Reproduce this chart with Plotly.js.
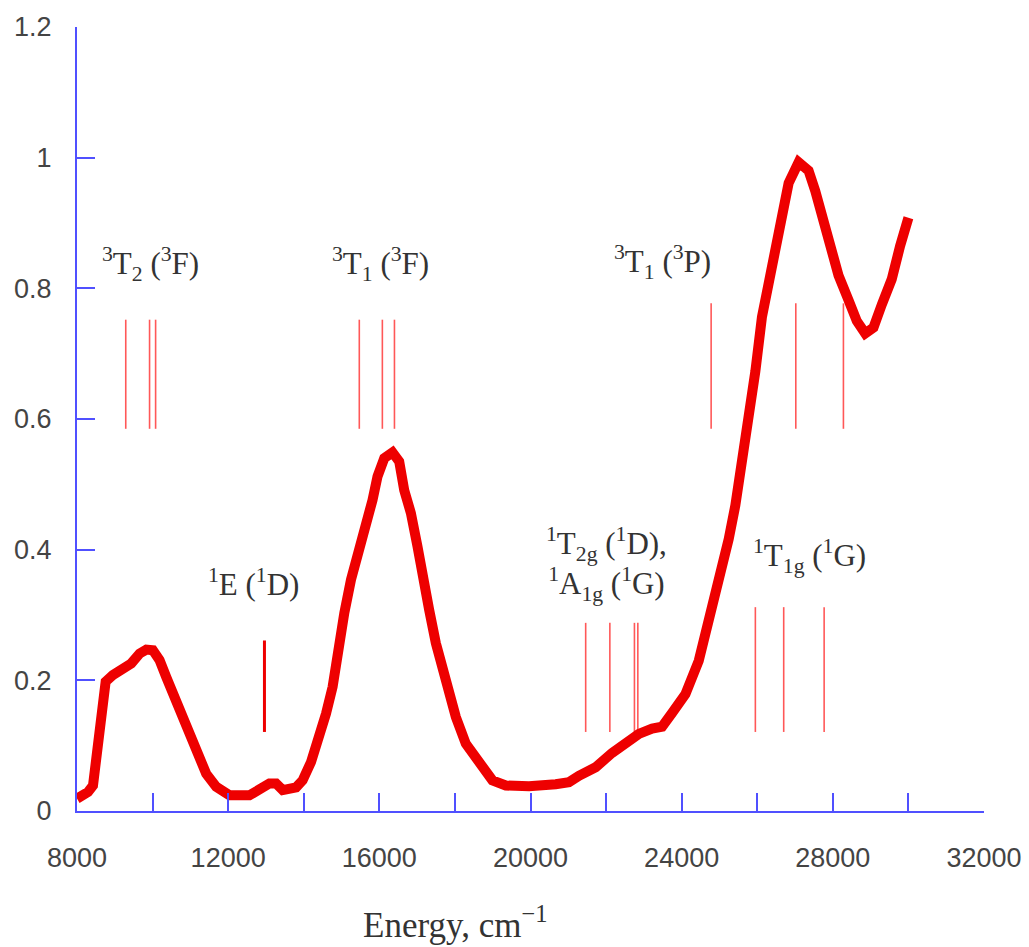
<!DOCTYPE html>
<html>
<head>
<meta charset="utf-8">
<script src="https://cdn.plot.ly/plotly-3.0.1.min.js"></script>
<style>html,body{margin:0;padding:0;background:#fff;}#chart{width:1029px;height:947px;}</style>
</head>
<body>
<div id="chart"></div>
<script>
// Absorption spectrum (energy in cm^-1, absorbance)
const energy = [8000, 8291, 8423, 8513, 8600, 8671, 8758, 8951, 9215, 9437, 9657, 9834, 10008, 10185, 10362, 10626, 10890, 11155, 11419, 11683, 12034, 12563, 12827, 13091, 13268, 13443, 13797, 13971, 14193, 14412, 14589, 14764, 14914, 15073, 15250, 15424, 15646, 15820, 15952, 16130, 16349, 16526, 16658, 16835, 17009, 17186, 17318, 17495, 17760, 18024, 18288, 18640, 18991, 19345, 19961, 20666, 21017, 21281, 21723, 22161, 22602, 22867, 23218, 23482, 23746, 24100, 24452, 24716, 24980, 25244, 25421, 25596, 25773, 25950, 26124, 26301, 26478, 26653, 26830, 27094, 27358, 27535, 27709, 27886, 28150, 28415, 28634, 28856, 29076, 29295, 29559, 29781, 30000];
const absorbance = [0.019, 0.029, 0.039, 0.078, 0.119, 0.154, 0.198, 0.208, 0.216, 0.226, 0.241, 0.247, 0.246, 0.231, 0.205, 0.170, 0.129, 0.093, 0.057, 0.037, 0.024, 0.024, 0.032, 0.042, 0.042, 0.032, 0.036, 0.047, 0.075, 0.113, 0.149, 0.190, 0.251, 0.303, 0.354, 0.389, 0.440, 0.476, 0.512, 0.540, 0.549, 0.535, 0.491, 0.456, 0.405, 0.359, 0.308, 0.257, 0.195, 0.144, 0.103, 0.073, 0.047, 0.039, 0.038, 0.041, 0.044, 0.054, 0.067, 0.089, 0.108, 0.118, 0.126, 0.129, 0.150, 0.179, 0.230, 0.288, 0.352, 0.416, 0.468, 0.532, 0.602, 0.673, 0.756, 0.807, 0.872, 0.916, 0.961, 0.993, 0.980, 0.949, 0.910, 0.865, 0.820, 0.782, 0.750, 0.731, 0.740, 0.775, 0.814, 0.865, 0.908];

// Calculated transition energies (stick markers) and their vertical extents
const t2F = [9290, 9920, 10080];
const t1F = [15470, 16080, 16400];
const t1P = [24780, 27020, 28280];
const eD = [12960];
const t2gA1g = [21460, 22100, 22750, 22840];
const t1gG = [25950, 26700, 27770];
const upperStick = [0.585, 0.752];
const upperStickP = [0.585, 0.777];
const lowerStickE = [0.121, 0.261];
const lowerStickA = [0.121, 0.288];
const lowerStickG = [0.121, 0.312];

// Term labels
const labelTexts = [
  "<sup>3</sup>T<sub>2</sub> (<sup>3</sup>F)",
  "<sup>3</sup>T<sub>1</sub> (<sup>3</sup>F)",
  "<sup>3</sup>T<sub>1</sub> (<sup>3</sup>P)",
  "<sup>1</sup>E (<sup>1</sup>D)",
  "<sup>1</sup>T<sub>2g</sub> (<sup>1</sup>D),<br><sup>1</sup>A<sub>1g</sub> (<sup>1</sup>G)",
  "<sup>1</sup>T<sub>1g</sub> (<sup>1</sup>G)"
];
const labelX = [9950, 16030, 23500, 12670, 22020, 27380];
const labelY = [0.838, 0.838, 0.840, 0.350, 0.378, 0.390];

// X tick values and labels
const xTickVals = [8000, 10000, 12000, 14000, 16000, 18000, 20000, 22000, 24000, 26000, 28000, 30000, 32000];
const xTickText = ["8000", "", "12000", "", "16000", "", "20000", "", "24000", "", "28000", "", "32000"];

function sticks(xs, range) {
  const x = [], y = [];
  xs.forEach(v => { x.push(v, v, null); y.push(range[0], range[1], null); });
  return {x, y};
}

const stickColor = 'rgba(255,70,70,0.9)';
const traces = [];
[[t2F, upperStick], [t1F, upperStick], [t1P, upperStickP], [t2gA1g, lowerStickA], [t1gG, lowerStickG]].forEach(([xs, r]) => {
  const s = sticks(xs, r);
  traces.push({x: s.x, y: s.y, mode: 'lines', line: {color: stickColor, width: 1.6}, hoverinfo: 'skip', showlegend: false});
});
const se = sticks(eD, lowerStickE);
traces.push({x: se.x, y: se.y, mode: 'lines', line: {color: '#ee0000', width: 3}, hoverinfo: 'skip', showlegend: false});
traces.push({x: energy, y: absorbance, mode: 'lines', line: {color: '#ee0000', width: 10}, showlegend: false});

const annFont = {family: 'Liberation Serif, Times New Roman, serif', size: 31, color: '#333333'};
const annotations = labelTexts.map((t, i) => ({
  x: labelX[i], y: labelY[i], xref: 'x', yref: 'y', text: t, showarrow: false,
  xanchor: 'center', yanchor: 'middle', font: annFont, align: 'center'
}));
const H = 947, mt = 27, mb = 136, W = 1029, ml = 77, mr = 45;
annotations.push({
  x: (455 - ml) / (W - ml - mr), y: (H - mb - 922) / (H - mt - mb), xref: 'paper', yref: 'paper',
  text: 'Energy, cm<sup>\u22121</sup>',
  showarrow: false, font: {family: 'Liberation Serif, Times New Roman, serif', size: 35, color: '#333333'},
  xanchor: 'center', yanchor: 'middle'
});

const axisBlue = '#5050ff';
const tickFont = {family: 'Liberation Sans, Arial, sans-serif', size: 27, color: '#444444'};
const layout = {
  width: W, height: H,
  margin: {l: ml, r: mr, t: mt, b: mb},
  paper_bgcolor: '#ffffff', plot_bgcolor: '#ffffff',
  font: {family: 'Liberation Sans, Arial, sans-serif', size: 27, color: '#444444'},
  xaxis: {
    range: [8000, 32000], tickmode: 'array', tickvals: xTickVals, ticktext: xTickText,
    showgrid: false, zeroline: false, showline: true, linecolor: axisBlue, linewidth: 2,
    ticks: 'inside', ticklen: 18, tickwidth: 2, tickcolor: axisBlue,
    ticklabelstandoff: 22, tickfont: tickFont
  },
  yaxis: {
    range: [0, 1.2], dtick: 0.2, tick0: 0,
    showgrid: false, zeroline: false, showline: true, linecolor: axisBlue, linewidth: 2,
    ticks: 'inside', ticklen: 18, tickwidth: 2, tickcolor: axisBlue,
    ticklabelstandoff: 18, tickfont: tickFont
  },
  annotations: annotations,
  showlegend: false
};

Plotly.newPlot('chart', traces, layout, {displayModeBar: false, staticPlot: true});
</script>
</body>
</html>
